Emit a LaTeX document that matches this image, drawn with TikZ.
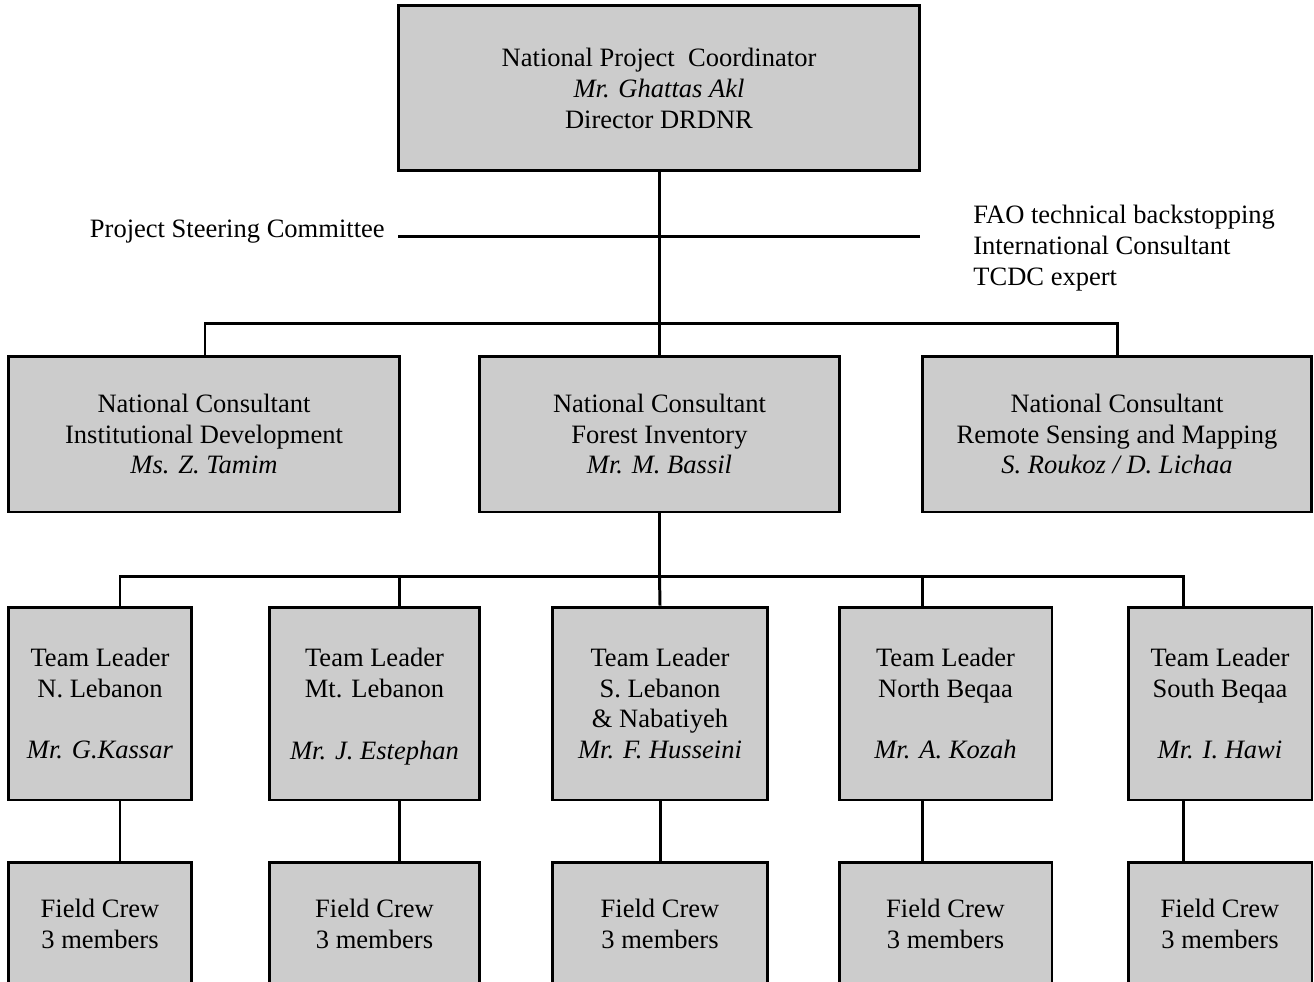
\documentclass[tikz,border=0pt]{standalone}
\usepackage{fontspec}
\setmainfont{Liberation Serif}
\definecolor{boxgray}{RGB}{204,204,204}
\begin{document}
\begin{tikzpicture}
[x=0.02cm, y=-0.02cm,
 box/.style={draw, line width=1.7pt, fill=boxgray, align=center, inner sep=0pt, font=\fontsize{15.1}{17.6}\selectfont},
 lbl/.style={align=left, inner sep=0pt, font=\fontsize{15.1}{17.6}\selectfont},
 link/.style={line width=1.7pt}]
\useasboundingbox (0,0) rectangle (1314,981);
\clip (0,0) rectangle (1314,981);
\node [box, minimum width=10.44cm, minimum height=3.32cm] (npc) at (659,88) {National Project \ Coordinator\\\textit{Mr. Ghattas Akl}\\Director DRDNR};
\node [lbl, anchor=east] (psc) at (385,232) {Project Steering Committee};
\node [lbl, anchor=west] (fao) at (973,248) {FAO technical backstopping\\International Consultant\\TCDC expert};
\coordinate (stl) at (398,236);
\coordinate (str) at (920,236);
\draw [link] (stl) -- (str);
\node [box, minimum width=7.84cm, minimum height=3.12cm] (inst) at (204,434) {National Consultant\\Institutional Development\\\textit{Ms. Z. Tamim}};
\node [box, minimum width=7.22cm, minimum height=3.12cm] (forest) at (659.5,434) {National Consultant\\Forest Inventory\\\textit{Mr. M. Bassil}};
\node [box, minimum width=7.8cm, minimum height=3.12cm] (remote) at (1117,434) {National Consultant\\Remote Sensing and Mapping\\\textit{S. Roukoz / D. Lichaa}};
\coordinate (ml) at (205,323);
\coordinate (mr) at (1117,323);
\draw [link] (npc.south) -- (npc.south |- forest.north);
\draw [link] (inst.north -| ml) -- (ml) -- (mr) -- (remote.north -| mr);
\node [box, minimum width=3.68cm, minimum height=3.86cm] (tnl) at (100,703.5) {Team Leader\\N. Lebanon\\[17.6pt]\textit{Mr. G.Kassar}};
\node [box, minimum width=4.22cm, minimum height=3.86cm] (tml) at (374.5,703.5) {Team Leader\\Mt. Lebanon\\[17.6pt]\raisebox{0pt}[\height][0pt]{\textit{Mr. J. Estephan}}};
\node [box, minimum width=4.32cm, minimum height=3.86cm] (tsl) at (660,703.5) {Team Leader\\S. Lebanon\\\& Nabatiyeh\\\textit{Mr. F. Husseini}};
\node [box, minimum width=4.26cm, minimum height=3.86cm] (tnb) at (945.5,703.5) {Team Leader\\North Beqaa\\[17.6pt]\textit{Mr. A. Kozah}};
\node [box, minimum width=3.68cm, minimum height=3.86cm] (tsb) at (1220,703.5) {Team Leader\\South Beqaa\\[17.6pt]\textit{Mr. I. Hawi}};
\node [box, minimum width=3.68cm, minimum height=2.48cm] (fnl) at (100,924) {Field Crew\\3 members};
\node [box, minimum width=4.22cm, minimum height=2.48cm] (fml) at (374.5,924) {Field Crew\\3 members};
\node [box, minimum width=4.32cm, minimum height=2.48cm] (fsl) at (660,924) {Field Crew\\3 members};
\node [box, minimum width=4.26cm, minimum height=2.48cm] (fnb) at (945.5,924) {Field Crew\\3 members};
\node [box, minimum width=3.68cm, minimum height=2.48cm] (fsb) at (1220,924) {Field Crew\\3 members};
\coordinate (tl) at (120,576);
\coordinate (dml) at (399,576);
\coordinate (dnb) at (922,576);
\coordinate (tr) at (1183,576);
\draw [link] (forest.south) -- (forest.south |- tl);
\draw [link] (tnl.north -| tl) -- (tl) -- (tr) -- (tsb.north -| tr);
\draw [link] (dml) -- (tml.north -| dml);
\draw [link] (forest.south |- tl) -- (tsl.north);
\draw [link] (dnb) -- (tnb.north -| dnb);
\draw [link] (tnl.south -| tl) -- (fnl.north -| tl);
\draw [link] (tml.south -| dml) -- (fml.north -| dml);
\draw [link] (tsl.south) -- (fsl.north);
\draw [link] (tnb.south -| dnb) -- (fnb.north -| dnb);
\draw [link] (tsb.south -| tr) -- (fsb.north -| tr);
\end{tikzpicture}
\end{document}
